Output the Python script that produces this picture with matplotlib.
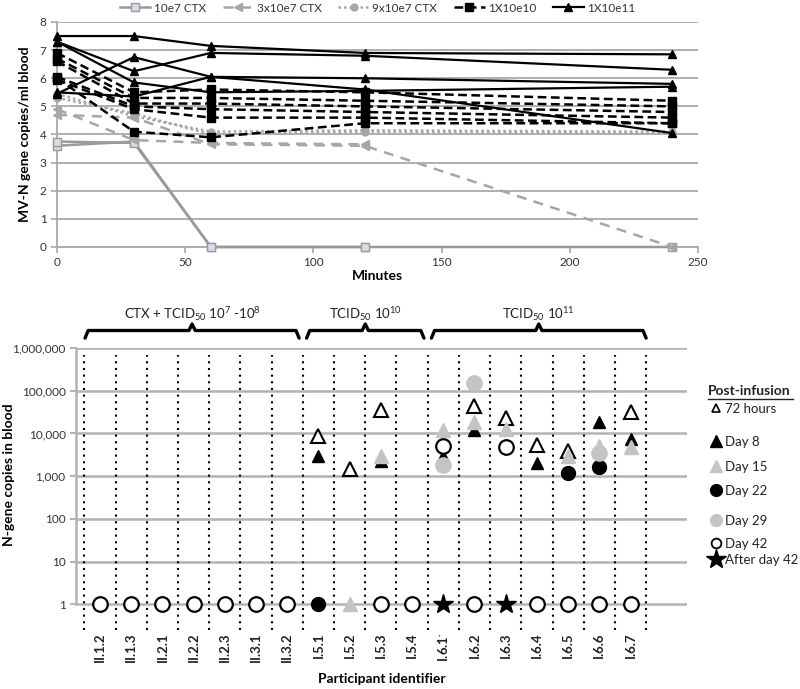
import numpy as np
import matplotlib
matplotlib.use('Agg')
import matplotlib.pyplot as plt
import matplotlib.transforms as mtransforms
from matplotlib.lines import Line2D

plt.rcParams['font.family'] = ['Lato', 'DejaVu Sans']
plt.rcParams['mathtext.fontset'] = 'custom'
plt.rcParams['mathtext.rm'] = 'Lato'
plt.rcParams['mathtext.bf'] = 'Lato:bold'

nan = np.nan

# ---- top panel: MV-N copies over time after infusion ----
minutes = [0, 30, 60, 120, 240]
ctx_1e7 = [[3.6, 3.75, 0, 0, 0],
           [3.75, 3.7, 0, 0, nan]]
ctx_3e7 = [[4.7, 4.6, 3.65, 3.6, 0],
           [4.9, 3.8, 3.7, 3.65, nan]]
ctx_9e7 = [[5.45, 4.65, 4.1, 4.15, 4.1],
           [5.3, 4.75, 4.0, 4.1, 4.05]]
dose_1e10 = [[6.9, 5.5, 5.6, 5.5, 5.2],
             [6.7, 5.3, 5.3, 5.2, 5.0],
             [6.6, 5.1, 5.1, 5.0, 4.8],
             [6.05, 5.0, 4.9, 4.8, 4.6],
             [5.95, 4.9, 4.6, 4.6, 4.4],
             [6.0, 4.1, 3.9, 4.4, 4.4]]
dose_1e11 = [[7.5, 7.5, 7.15, 6.9, 6.85],
             [7.3, 6.25, 6.9, 6.8, 6.3],
             [5.45, 6.75, 6.05, 6.0, 5.8],
             [7.3, 5.85, 5.5, 5.55, 5.7],
             [5.5, 5.35, 6.05, 5.6, 4.05]]
top_names = ['10e7 CTX', '3x10e7 CTX', '9x10e7 CTX', '1X10e10', '1X10e11']

# ---- bottom panel: N-gene copies per participant ----
participants = ['II.1.2', 'II.1.3', 'II.2.1', 'II.2.2', 'II.2.3', 'II.3.1', 'II.3.2',
                'I.5.1', 'I.5.2', 'I.5.3', 'I.5.4',
                'I.6.1', 'I.6.2', 'I.6.3', 'I.6.4', 'I.6.5', 'I.6.6', 'I.6.7']
tick_labels = participants[:11] + [r'I.6.1$^{\bullet}$'] + participants[12:]
groups = [r'CTX + TCID$_{50}$ 10$^{7}$ -10$^{8}$', r'TCID$_{50}$ 10$^{10}$', r'TCID$_{50}$ 10$^{11}$']
group_sizes = [7, 4, 7]

h72 = {'I.5.1': 8700, 'I.5.2': 1450, 'I.5.3': 35000, 'I.6.2': 44000, 'I.6.3': 23000,
       'I.6.4': 5300, 'I.6.5': 3800, 'I.6.7': 31000}
day8 = {'I.5.1': 2900, 'I.5.3': 2300, 'I.6.1': 2900, 'I.6.2': 12000, 'I.6.4': 2000,
        'I.6.6': 18500, 'I.6.7': 7400}
day15 = {'I.5.2': 1, 'I.5.3': 2900, 'I.6.1': 12000, 'I.6.2': 19000, 'I.6.3': 13000,
         'I.6.5': 3000, 'I.6.6': 5000, 'I.6.7': 4800}
day22 = {'I.5.1': 1, 'I.6.5': 1180, 'I.6.6': 1600}
day29 = {'I.6.1': 1800, 'I.6.2': 150000, 'I.6.6': 3500}
day42 = {'II.1.2': 1, 'II.1.3': 1, 'II.2.1': 1, 'II.2.2': 1, 'II.2.3': 1, 'II.3.1': 1,
         'II.3.2': 1, 'I.5.3': 1, 'I.5.4': 1, 'I.6.1': 5000, 'I.6.2': 1, 'I.6.3': 4800,
         'I.6.4': 1, 'I.6.5': 1, 'I.6.6': 1, 'I.6.7': 1}
after42 = {'I.6.1': 1, 'I.6.3': 1}

fig = plt.figure(figsize=(8, 6.89), dpi=100)

# ================= top chart =================
ax1 = fig.add_axes([57/800, 1-247/689, 641/800, 225/689])
grid_grey = '#a9a9a9'
styles = [
    dict(color='#9a9a9a', ls='-', marker='s', ms=6, mfc='#d5dcea', mec='#9a9a9a', lw=1.8),
    dict(color='#a6a6a6', ls=(0, (4, 3)), marker='<', ms=6, mfc='#a6a6a6', mec='#a6a6a6', lw=1.8),
    dict(color='#a6a6a6', ls=(0, (1, 1.2)), marker='o', ms=5, mfc='#a6a6a6', mec='#a6a6a6', lw=1.8),
    dict(color='black', ls=(0, (3.5, 1.8)), marker='s', ms=5.5, mfc='black', mec='black', lw=1.8),
    dict(color='black', ls='-', marker='^', ms=6, mfc='black', mec='black', lw=1.6),
]
handles = []
for series, st in zip([ctx_1e7, ctx_3e7, ctx_9e7, dose_1e10, dose_1e11], styles):
    for k, vals in enumerate(series):
        ln, = ax1.plot(minutes, vals, clip_on=False, zorder=3, **st)
        if k == 0:
            handles.append(ln)

ax1.set_xlim(0, 250)
ax1.set_ylim(0, 8)
ax1.set_xticks([0, 50, 100, 150, 200, 250])
ax1.set_yticks(range(9))
ax1.yaxis.grid(True, color=grid_grey, lw=1.3)
ax1.set_axisbelow(True)
for s in ['top', 'right']:
    ax1.spines[s].set_visible(False)
for s in ['left', 'bottom']:
    ax1.spines[s].set_color(grid_grey)
    ax1.spines[s].set_linewidth(1.3)
ax1.tick_params(axis='both', colors=grid_grey, labelcolor='#333333', labelsize=8.5, length=4, width=1.2)
ax1.set_xlabel('Minutes', fontsize=10, fontweight='bold', labelpad=1)
ax1.set_ylabel('MV-N gene copies/ml blood', fontsize=10, fontweight='bold', labelpad=6)
ax1.legend(handles, top_names, loc='center', bbox_to_anchor=(0.5, 1.062), ncol=5, frameon=False,
           fontsize=8.5, handlelength=2.6, columnspacing=1.4, handletextpad=0.3,
           labelcolor='#333333')

# ================= bottom chart =================
ax2 = fig.add_axes([76/800, 1-630/689, 611/800, 282/689])
ax2.set_yscale('log')
ax2.set_ylim(0.25, 1e6)
ax2.set_xlim(-0.77, 18.81)
yt = [1, 10, 100, 1000, 10000, 100000, 1000000]
ax2.set_yticks(yt)
ax2.set_yticklabels([f'{v:,}' for v in yt])
ax2.minorticks_off()
for v in yt:
    ax2.axhline(v, color='#b3b3b3', lw=1.8, zorder=1)
n = len(participants)
ax2.vlines(np.arange(n + 1) - 0.5, 0.25, 7e5, colors='black', linestyles=(0, (1, 2.2)), lw=1.5, zorder=1)

for s in ['top', 'right', 'bottom']:
    ax2.spines[s].set_visible(False)
ax2.spines['left'].set_bounds(1, 1e6)
ax2.spines['left'].set_color('#b3b3b3')
ax2.spines['left'].set_linewidth(1.8)
ax2.tick_params(axis='y', colors='#b3b3b3', labelcolor='#333333', labelsize=8.5, length=4, width=1.5)
ax2.set_xticks(range(n))
ax2.set_xticklabels(tick_labels, rotation=90, fontweight='bold', fontsize=9.5, color='#222222')
ax2.tick_params(axis='x', length=0, pad=2)
ax2.set_xlabel('Participant identifier', fontsize=10, fontweight='bold', labelpad=8)
ax2.set_ylabel('N-gene copies in blood', fontsize=10, fontweight='bold', labelpad=6)
ax2.yaxis.set_label_coords(-0.1, 0.55)

light = '#c4c4c4'
series = [
    (h72, dict(marker='^', ms=10, mfc='white', mec='black', mew=1.5)),
    (day8, dict(marker='^', ms=9, mfc='black', mec='black')),
    (day15, dict(marker='^', ms=10, mfc=light, mec=light)),
    (day22, dict(marker='o', ms=10, mfc='black', mec='black')),
    (day29, dict(marker='o', ms=11, mfc=light, mec=light)),
    (day42, dict(marker='o', ms=10.5, mfc='white', mec='black', mew=1.6)),
    (after42, dict(marker='*', ms=15, mfc='black', mec='black')),
]
for data, st in series:
    xs = [participants.index(p) for p in data]
    ax2.plot(xs, list(data.values()), ls='none', clip_on=False, zorder=4, **st)

# group brackets
trans = mtransforms.blended_transform_factory(ax2.transData, ax2.transAxes)
edges = np.concatenate([[0], np.cumsum(group_sizes)]) - 0.5
for g, label in enumerate(groups):
    x0 = edges[g] + (0.02 if g == 0 else 0.12)
    x1 = edges[g + 1] - (0.12 if g < len(groups) - 1 else 0.0)
    xm = (x0 + x1) / 2
    bx = [x0, x0 + 0.1, xm - 0.1, xm, xm + 0.1, x1 - 0.1, x1]
    by = [1.035, 1.062, 1.062, 1.085, 1.062, 1.062, 1.035]
    ax2.add_line(Line2D(bx, by, transform=trans, color='black', lw=2.4, clip_on=False,
                        solid_joinstyle='round', solid_capstyle='round'))
    ax2.text(xm, 1.12, label, transform=trans, ha='center', va='center', fontsize=9.5, color='#222222')

# post-infusion key
def fx(px):
    return px / 800
def fy(py):
    return 1 - py / 689

fig.text(fx(708), fy(391), 'Post-infusion', fontsize=10, fontweight='bold', va='center', color='#222222')
fig.add_artist(Line2D([fx(708), fx(793)], [fy(399), fy(399)], color='#222222', lw=1))
key = [
    ('72 hours', 408, dict(marker='^', ms=6, mfc='white', mec='black', mew=1.2)),
    ('Day 8', 441, dict(marker='^', ms=8, mfc='black', mec='black')),
    ('Day 15', 466, dict(marker='^', ms=8, mfc=light, mec=light)),
    ('Day 22', 490, dict(marker='o', ms=8.5, mfc='black', mec='black')),
    ('Day 29', 520, dict(marker='o', ms=8.5, mfc=light, mec=light)),
    ('Day 42', 543, dict(marker='o', ms=7, mfc='white', mec='black', mew=1.3)),
    ('After day 42', 559, dict(marker='*', ms=15, mfc='black', mec='black')),
]
for label, py, st in key:
    fig.add_artist(Line2D([fx(716)], [fy(py)], ls='none', **st))
    fig.text(fx(725), fy(py + 1), label, fontsize=9.5, va='center', color='#222222')

fig.savefig('out.png', dpi=100)
